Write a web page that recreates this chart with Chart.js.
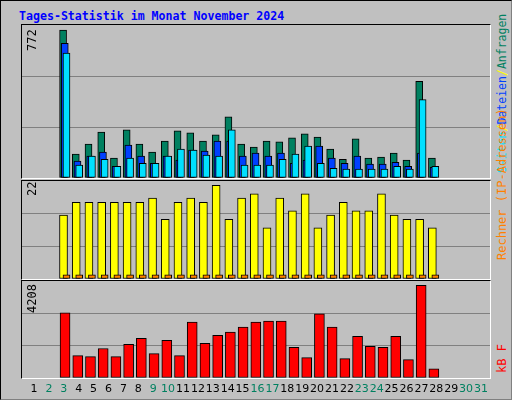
<!DOCTYPE html>
<html><head><meta charset="utf-8">
<script src="https://cdn.jsdelivr.net/npm/chart.js@4"></script>
<style>
body{margin:0;background:#fff}
#wrap{position:absolute;left:0;top:0;width:510px;height:398px;background:#c0c0c0;border:1px solid #000;border-right-color:#808080;border-bottom-color:#808080}
.panel{position:absolute;left:20px;width:470px;background:#c0c0c0;border-top:1px solid #000;border-left:1px solid #000;border-right:1px solid #fff;border-bottom:1px solid #fff;box-sizing:border-box}
.panel canvas{position:absolute;left:0;top:0}
.rot{position:absolute;transform:rotate(-90deg);transform-origin:left top;white-space:nowrap;font:12px "DejaVu Sans Mono",monospace}
#title{position:absolute;left:18px;top:8px;font:bold 11.6px "DejaVu Sans Mono",monospace;color:#0000ff}
.day{position:absolute;top:381px;width:16px;text-align:center;font:11px "DejaVu Sans",sans-serif}
</style></head><body>
<div id="wrap">
  <div id="title">Tages-Statistik im Monat November 2024</div>
  <div class="panel" style="top:23px;height:155px"><canvas id="c1"></canvas></div>
  <div class="panel" style="top:179px;height:100px"><canvas id="c2"></canvas></div>
  <div class="panel" style="top:279px;height:99px"><canvas id="c3"></canvas></div>
  <div class="rot" style="left:24px;top:50px;color:#000">772</div>
  <div class="rot" style="left:24px;top:195px;color:#000">22</div>
  <div class="rot" style="left:24px;top:312px;color:#000">4208</div>
  <div class="rot" style="left:494px;top:172px;font-size:11.5px"><span style="color:#00e0ff">Seiten</span><span style="color:#ffff00">/</span><span style="color:#0040ff">Dateien</span><span style="color:#ffff00">/</span><span style="color:#008060">Anfragen</span></div>
  <div class="rot" style="left:494px;top:259px;color:#ff8000">Rechner (IP-Adressen)</div>
  <div class="rot" style="left:494px;top:372px;color:#ff0000">kB F</div>
  <div id="days"></div>
</div>
<script>
// Tage und Werte
const days = Array.from({length: 31}, (_, i) => i + 1);
const weekend = [2, 3, 9, 10, 16, 17, 23, 24, 30, 31];
const hits = [772,125,177,240,104,251,177,135,193,246,235,193,225,319,177,161,193,188,209,230,214,151,98,204,104,109,130,93,504,104];
const files = [703,88,114,135,61,172,114,77,114,93,146,140,193,193,114,130,114,130,77,93,167,104,77,114,72,72,82,61,130,56];
const pages = [651,67,114,98,61,104,77,77,114,151,146,119,114,251,67,67,67,98,125,167,77,51,46,46,46,46,61,46,409,61];
const visits = [15,18,18,18,18,18,18,19,14,18,19,18,22,14,19,20,12,19,16,20,12,15,18,16,16,20,15,14,14,12];
const sites = [1,1,1,1,1,1,1,1,1,1,1,1,1,1,1,1,1,1,1,1,1,1,1,1,1,1,1,1,1,1];
const kbytes = [2959,1017,971,1341,971,1526,1803,1110,1711,1017,2543,1572,1942,2080,2312,2543,2589,2589,1387,925,2913,2312,878,1895,1433,1387,1895,832,4208,416];

const PX = 14.9; // Pixel je Tag
const pts = (arr, off) => arr.map((v, i) => ({x: i + 1 + off / PX, y: v}));

function ds(arr, off, color, width, order) {
  return {data: pts(arr, off), backgroundColor: color, borderColor: '#000', borderWidth: 1,
          barThickness: width, grouped: false, order: order, borderSkipped: false};
}

function makeChart(id, h, datasets, max) {
  const cv = document.getElementById(id);
  cv.style.width = '468px'; cv.style.height = h + 'px';
  cv.width = 468; cv.height = h;
  return new Chart(cv, {
    type: 'bar',
    data: {datasets},
    options: {
      responsive: false, animation: false, devicePixelRatio: 1,
      layout: {padding: 0},
      plugins: {legend: {display: false}, tooltip: {enabled: false}},
      scales: {
        x: {type: 'linear', min: 0.13, max: 31.67, display: false},
        y: {min: 0, max: max, border: {display: false},
            afterBuildTicks: ax => { ax.ticks = [0, max / 3, 2 * max / 3].map(v => ({value: v})); },
            afterFit: ax => { ax.width = 0; },
            ticks: {display: false, padding: 0},
            grid: {color: '#808080', drawTicks: false, tickLength: 0, lineWidth: 1}}
      }
    }
  });
}

makeChart('c1', 153, [
  ds(hits, -4, '#008060', 7, 3),
  ds(files, -2, '#0040ff', 7, 2),
  ds(pages, 0, '#00e0ff', 7, 1)
], 798);
makeChart('c2', 98, [
  ds(visits, -3.5, '#ffff00', 8, 2),
  ds(sites, 0, '#ff8000', 7, 1)
], 23);
makeChart('c3', 97, [
  ds(kbytes, -1.7, '#ff0000', 10, 1)
], 4403);

// Tagesbeschriftung
const dayBox = document.getElementById('days');
days.forEach(d => {
  const s = document.createElement('div');
  s.className = 'day';
  s.textContent = d;
  s.style.left = (33 + PX * (d - 1) - 8) + 'px';
  s.style.color = weekend.includes(d) ? '#008060' : '#000';
  dayBox.appendChild(s);
});
</script>
</body></html>
